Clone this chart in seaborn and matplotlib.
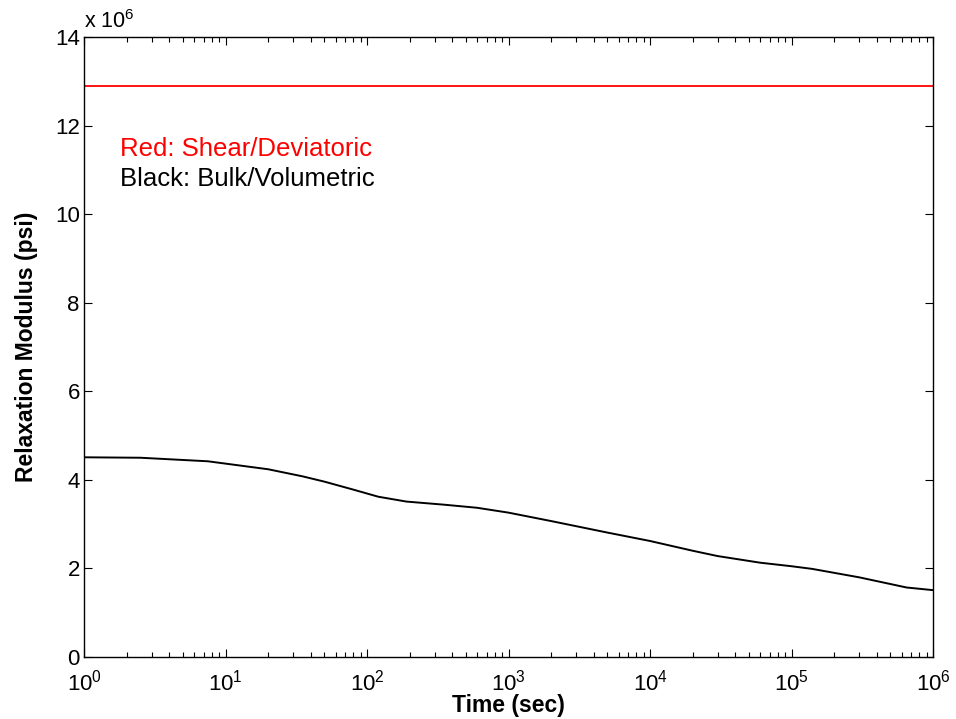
import numpy as np
import pandas as pd
import matplotlib
matplotlib.use("Agg")
import matplotlib.pyplot as plt
import seaborn as sns
from matplotlib.ticker import FuncFormatter, LogLocator, FixedLocator, NullFormatter

# Data
bulk_time = [1, 2.5, 7.5, 20, 35, 50, 80, 120, 190, 350, 600, 1000, 2000, 5000, 1e4, 2e4,
             3e4, 6e4, 1e5, 1.4e5, 3e5, 6.5e5, 1e6]
bulk_modulus = [4.51e6, 4.50e6, 4.42e6, 4.24e6, 4.08e6, 3.96e6, 3.78e6, 3.62e6, 3.51e6, 3.44e6,
                3.37e6, 3.26e6, 3.07e6, 2.81e6, 2.62e6, 2.40e6, 2.28e6, 2.13e6, 2.05e6, 1.99e6,
                1.80e6, 1.57e6, 1.51e6]
shear_time = [1, 1e6]
shear_modulus = [12.9e6, 12.9e6]
y_ticks = [0, 2, 4, 6, 8, 10, 12, 14]

sns.set_style("ticks")
plt.rcParams['font.family'] = ['Liberation Sans', 'DejaVu Sans']
plt.rcParams['mathtext.fontset'] = 'custom'
plt.rcParams['mathtext.rm'] = 'Liberation Sans'
plt.rcParams['text.color'] = 'black'
plt.rcParams['axes.labelcolor'] = 'black'
plt.rcParams['xtick.color'] = 'black'
plt.rcParams['ytick.color'] = 'black'

fig = plt.figure(figsize=(9.56, 7.19), dpi=100)
ax = fig.add_axes([0.0879, 0.0862, 0.976 - 0.0879, 0.9485 - 0.0862])

bulk_df = pd.DataFrame({"t": bulk_time, "E": bulk_modulus})
shear_df = pd.DataFrame({"t": shear_time, "E": shear_modulus})
sns.lineplot(data=shear_df, x="t", y="E", color="#ff0000", linewidth=1.3, ax=ax)
sns.lineplot(data=bulk_df, x="t", y="E", color="black", linewidth=1.4, ax=ax)

ax.set_xscale("log")
ax.set_xlim(1, 1e6)
ax.set_ylim(0, 14e6)
ax.yaxis.set_major_locator(FixedLocator([v * 1e6 for v in y_ticks]))
ax.yaxis.set_major_formatter(FuncFormatter(lambda v, p: f"{v/1e6:g}"))
ax.xaxis.set_major_locator(LogLocator(base=10, numticks=10))
ax.xaxis.set_minor_locator(LogLocator(base=10, subs=np.arange(2, 10), numticks=20))
ax.xaxis.set_minor_formatter(NullFormatter())

for s in ax.spines.values():
    s.set_linewidth(1.0)
    s.set_color("black")
ax.tick_params(axis="both", which="major", direction="in", length=6, width=0.8,
               top=True, right=True, labelsize=16, colors="black")
ax.tick_params(axis="x", which="major", pad=9)
ax.tick_params(axis="y", which="major", pad=3)
ax.tick_params(axis="both", which="minor", direction="in", length=3.5, width=0.8,
               top=True, right=True)
ax.tick_params(axis="y", which="minor", left=False, right=False)

ax.set_xlabel("Time (sec)", fontsize=16.5, fontweight="bold", labelpad=-1)
ax.set_ylabel("Relaxation Modulus (psi)", fontsize=16.5, fontweight="bold", labelpad=12)

ax.text(0.0, 1.006, r"x 10$^{6}$", transform=ax.transAxes, fontsize=15.5,
        ha="left", va="bottom")

ax.text(1.8, 11.47e6, "Red: Shear/Deviatoric", color="#ff0000", fontsize=18.5, va="center")
ax.text(1.8, 10.8e6, "Black: Bulk/Volumetric", color="black", fontsize=18.5, va="center")

fig.savefig("out.png", dpi=100, facecolor="white")
